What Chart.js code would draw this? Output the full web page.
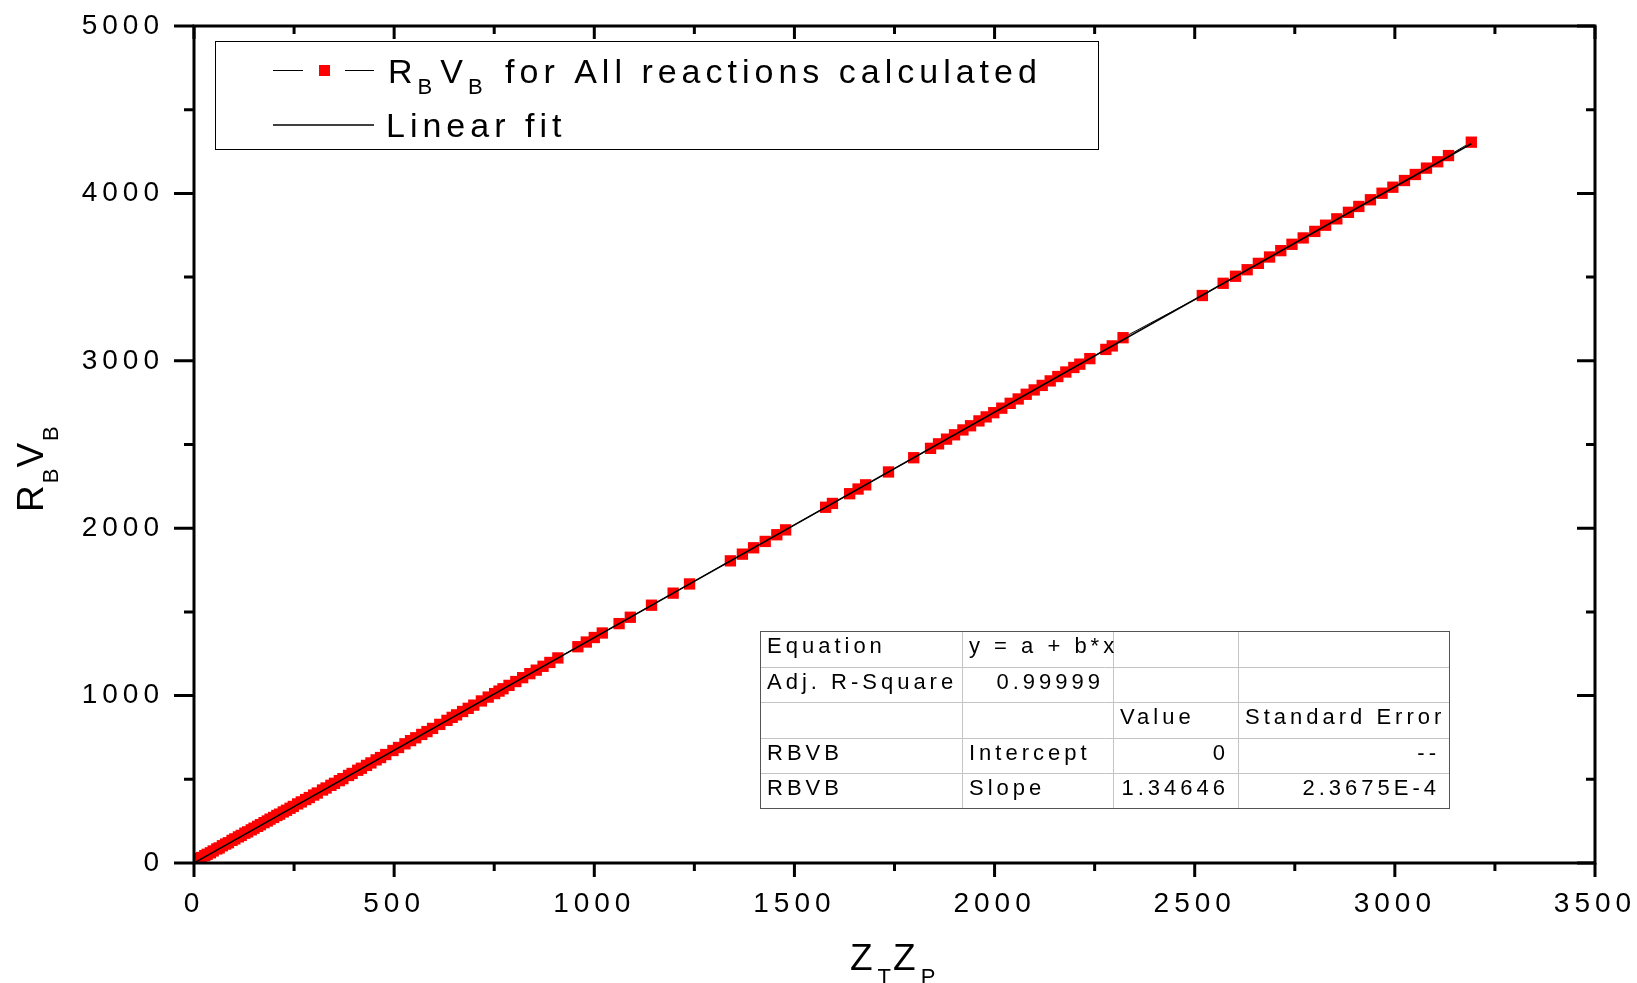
<!DOCTYPE html>
<html>
<head>
<meta charset="utf-8">
<title>RBVB vs ZTZP</title>
<script src="https://cdn.jsdelivr.net/npm/chart.js@4.4.1/dist/chart.umd.min.js"></script>
<style>
  html, body { margin: 0; padding: 0; background: #fff; }
  #wrap { width: 1637px; height: 983px; }
</style>
</head>
<body>
<div id="wrap"><canvas id="chart" width="1637" height="983"></canvas></div>
<script>
// Z_T * Z_P of every reaction
const zTzP = [
  5, 12, 19, 27, 33, 41, 48, 57, 63, 71,
  79, 86, 95, 102, 111, 118, 127, 134, 143, 150,
  159, 166, 175, 183, 190, 199, 207, 214, 223, 231,
  240, 248, 259, 268, 279, 288, 299, 308, 321, 330,
  342, 351, 363, 372, 386, 395, 409, 418, 431, 442,
  455, 466, 479, 497, 511, 527, 541, 554, 569, 582,
  596, 614, 632, 645, 656, 671, 685, 699, 718, 735,
  751, 762, 772, 787, 804, 821, 839, 855, 872, 889,
  909, 959, 980, 1000, 1020, 1062, 1090, 1143, 1197, 1238,
  1340, 1370, 1398, 1427, 1456, 1478, 1578, 1595, 1638, 1659,
  1678, 1735, 1798, 1840, 1860, 1880, 1900, 1921, 1940, 1961,
  1979, 1998, 2018, 2039, 2059, 2079, 2099, 2119, 2139, 2158,
  2178, 2198, 2213, 2238, 2278, 2294, 2321, 2519, 2571, 2602,
  2631, 2659, 2687, 2715, 2743, 2771, 2800, 2827, 2855, 2884,
  2910, 2939, 2968, 2995, 3024, 3051, 3079, 3107, 3134, 3191
];

// R_B * V_B of the same reactions
const rBvB = [
  18, 27, 33, 44, 52, 61, 72, 84, 90, 103,
  113, 121, 135, 144, 156, 165, 178, 186, 198, 208,
  219, 229, 241, 251, 262, 272, 284, 292, 305, 315,
  327, 338, 353, 365, 379, 391, 406, 418, 436, 448,
  464, 476, 492, 504, 523, 535, 554, 566, 583, 598,
  616, 630, 648, 672, 690, 712, 731, 748, 768, 785,
  804, 828, 852, 870, 885, 905, 924, 943, 968, 991,
  1012, 1027, 1041, 1061, 1084, 1107, 1131, 1152, 1175, 1198,
  1225, 1292, 1320, 1347, 1374, 1430, 1468, 1540, 1612, 1667,
  1805, 1845, 1883, 1921, 1961, 1990, 2125, 2148, 2206, 2234,
  2259, 2336, 2421, 2477, 2504, 2532, 2558, 2587, 2612, 2641,
  2665, 2690, 2717, 2746, 2772, 2800, 2826, 2853, 2880, 2906,
  2933, 2960, 2980, 3013, 3068, 3089, 3138, 3390, 3463, 3505,
  3544, 3582, 3620, 3658, 3696, 3734, 3773, 3810, 3848, 3887,
  3922, 3962, 4001, 4037, 4077, 4113, 4151, 4189, 4226, 4306
];

const xTicks = [0, 500, 1000, 1500, 2000, 2500, 3000, 3500];
const yTicks = [0, 1000, 2000, 3000, 4000, 5000];
const xMinorStep = 250;
const yMinorStep = 500;

// linear fit results
const fitIntercept = 0;
const fitSlope = 1.34646;

const fitTable = [
  ['Equation', 'y = a + b*x', '', ''],
  ['Adj. R-Square', '0.99999', '', ''],
  ['', '', 'Value', 'Standard Error'],
  ['RBVB', 'Intercept', '0', '--'],
  ['RBVB', 'Slope', '1.34646', '2.3675E-4']
];

const FONT = '"Liberation Sans", Arial, sans-serif';

const points = zTzP.map((x, i) => ({ x: x, y: rBvB[i] }));
const xLo = Math.min(...zTzP), xHi = Math.max(...zTzP);
const fitPoints = [xLo, xHi].map(x => ({ x: x, y: fitIntercept + fitSlope * x }));

// text runs with subscripts: [text, isSub]
function drawRuns(ctx, runs, x, y, size, opt) {
  let cx = x;
  runs.forEach(([t, sub]) => {
    const fs = sub ? opt.subSize : size;
    ctx.font = fs + 'px ' + FONT;
    ctx.letterSpacing = (sub ? 0 : opt.spacing) + 'px';
    ctx.fillText(t, cx, sub ? y + opt.subShift : y);
    cx += ctx.measureText(t).width + (sub ? opt.subGap : 0);
  });
  ctx.letterSpacing = '0px';
  return cx;
}

const framePlugin = {
  id: 'frame',
  beforeDraw(chart) {
    chart.ctx.letterSpacing = '5px';
  },
  afterDatasetsDraw(chart) {
    const ctx = chart.ctx;
    const a = chart.chartArea;
    const xs = chart.scales.x, ys = chart.scales.y;
    ctx.save();
    ctx.strokeStyle = '#000';
    ctx.lineWidth = 3;
    ctx.strokeRect(a.left, a.top, a.right - a.left, a.bottom - a.top);
    ctx.beginPath();
    for (let v = xs.min; v <= xs.max; v += xMinorStep) {
      const p = xs.getPixelForValue(v);
      const major = xTicks.includes(v);
      // bottom: outward, top: inward
      ctx.moveTo(p, a.bottom);
      ctx.lineTo(p, a.bottom + (major ? 14 : 8));
      ctx.moveTo(p, a.top);
      ctx.lineTo(p, a.top + (major ? 13 : 8));
    }
    for (let v = ys.min; v <= ys.max; v += yMinorStep) {
      const p = ys.getPixelForValue(v);
      const major = yTicks.includes(v);
      // left: outward, right: inward
      ctx.moveTo(a.left, p);
      ctx.lineTo(a.left - (major ? 20 : 10), p);
      ctx.moveTo(a.right, p);
      ctx.lineTo(a.right - (major ? 18 : 9), p);
    }
    ctx.stroke();
    ctx.restore();
  },
  afterDraw(chart) {
    const ctx = chart.ctx;
    ctx.save();
    ctx.fillStyle = '#000';
    ctx.textBaseline = 'alphabetic';
    ctx.textAlign = 'left';

    // axis titles
    const titleOpt = { spacing: 5, subSize: 22, subShift: 14, subGap: 2 };
    drawRuns(ctx, [['Z'], ['T', true], ['Z'], ['P', true]], 850, 970, 37, titleOpt);
    ctx.save();
    ctx.translate(43, 512);
    ctx.rotate(-Math.PI / 2);
    drawRuns(ctx, [['R'], ['B', true], ['V'], ['B', true]], 0, 0, 37,
      { spacing: 2, subSize: 22, subShift: 15, subGap: 1 });
    ctx.restore();

    // legend
    ctx.fillStyle = '#fff';
    ctx.fillRect(215, 41, 883, 108);
    ctx.strokeStyle = '#000';
    ctx.lineWidth = 1;
    ctx.strokeRect(215.5, 41.5, 883, 108);
    ctx.beginPath();
    ctx.moveTo(273, 70.5); ctx.lineTo(303, 70.5);
    ctx.moveTo(345, 70.5); ctx.lineTo(374, 70.5);
    ctx.stroke();
    ctx.fillStyle = '#ff0000';
    ctx.fillRect(319, 65, 11, 11);
    ctx.strokeStyle = '#000';
    ctx.lineWidth = 1.5;
    ctx.beginPath();
    ctx.moveTo(273, 125); ctx.lineTo(374, 125);
    ctx.stroke();
    ctx.fillStyle = '#000';
    const legOpt = { spacing: 5, subSize: 22, subShift: 11, subGap: 8 };
    drawRuns(ctx, [['R'], ['B', true], ['V'], ['B', true], [' for All reactions calculated']],
      388, 83, 34, legOpt);
    drawRuns(ctx, [['Linear fit']], 386, 137, 34, legOpt);

    // fit parameter table
    const cols = [760, 962, 1113, 1238, 1449];
    const rows = [631, 666.5, 702, 737.5, 773, 808];
    ctx.fillStyle = '#fff';
    ctx.fillRect(cols[0], rows[0], cols[4] - cols[0], rows[5] - rows[0]);
    ctx.strokeStyle = '#c4c4c4';
    ctx.lineWidth = 1;
    ctx.beginPath();
    for (let i = 1; i < cols.length - 1; i++) {
      ctx.moveTo(cols[i] + 0.5, rows[0]); ctx.lineTo(cols[i] + 0.5, rows[5]);
    }
    for (let j = 1; j < rows.length - 1; j++) {
      ctx.moveTo(cols[0], Math.round(rows[j]) + 0.5); ctx.lineTo(cols[4], Math.round(rows[j]) + 0.5);
    }
    ctx.stroke();
    ctx.strokeStyle = '#555';
    ctx.strokeRect(cols[0] + 0.5, rows[0] + 0.5, cols[4] - cols[0], rows[5] - rows[0]);

    ctx.fillStyle = '#000';
    ctx.font = '22px ' + FONT;
    ctx.letterSpacing = '4px';
    fitTable.forEach((row, r) => {
      row.forEach((cell, c) => {
        if (!cell) return;
        const numeric = /^[0-9.E\-]+$/.test(cell);
        const y = rows[r] + 22;
        if (numeric) {
          ctx.textAlign = 'right';
          ctx.fillText(cell, cols[c + 1] - 9, y);
        } else {
          ctx.textAlign = 'left';
          ctx.fillText(cell, cols[c] + 7, y);
        }
      });
    });
    ctx.restore();
  }
};

const tickFont = { family: FONT, size: 28 };
const plainLabel = v => String(v);

new Chart(document.getElementById('chart'), {
  type: 'scatter',
  data: {
    datasets: [
      {
        label: 'Linear fit',
        data: fitPoints,
        showLine: true,
        borderColor: '#000',
        borderWidth: 1.6,
        pointRadius: 0,
        order: 0
      },
      {
        label: 'RBVB for All reactions calculated',
        data: points,
        showLine: true,
        borderColor: '#000',
        borderWidth: 1,
        pointStyle: 'rect',
        pointRadius: 8,
        pointBackgroundColor: '#ff0000',
        pointBorderWidth: 0,
        order: 1
      }
    ]
  },
  options: {
    responsive: false,
    animation: false,
    devicePixelRatio: 1,
    layout: { padding: { top: 26, right: 42, left: 0, bottom: 0 } },
    plugins: {
      legend: { display: false },
      tooltip: { enabled: false }
    },
    scales: {
      x: {
        type: 'linear',
        position: 'bottom',
        min: 0,
        max: 3500,
        afterBuildTicks: s => { s.ticks = xTicks.map(v => ({ value: v })); },
        afterFit: s => { s.height = 120; s.paddingLeft = 0; s.paddingRight = 0; },
        grid: { display: false, drawTicks: false },
        border: { display: false },
        ticks: { font: tickFont, color: '#000', padding: 24, maxRotation: 0, autoSkip: false, callback: plainLabel }
      },
      y: {
        type: 'linear',
        position: 'left',
        min: 0,
        max: 5000,
        afterBuildTicks: s => { s.ticks = yTicks.map(v => ({ value: v })); },
        afterFit: s => { s.width = 194; s.paddingTop = 0; s.paddingBottom = 0; },
        grid: { display: false, drawTicks: false },
        border: { display: false },
        ticks: { font: tickFont, color: '#000', padding: 30, autoSkip: false, callback: plainLabel }
      }
    }
  },
  plugins: [framePlugin]
});
</script>
</body>
</html>
